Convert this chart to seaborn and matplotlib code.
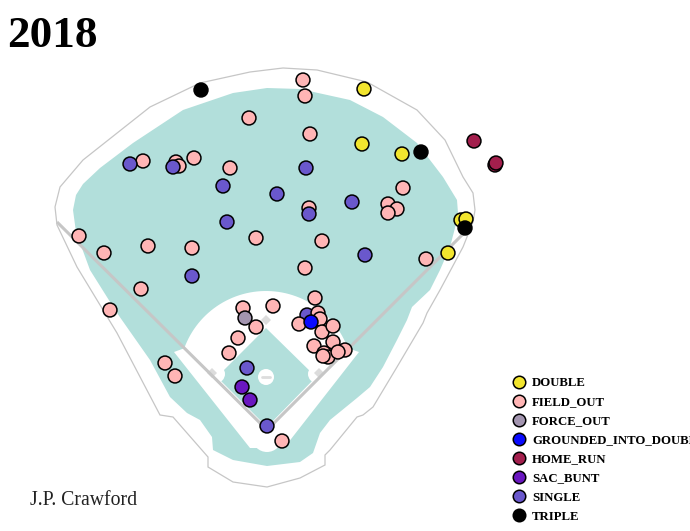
import matplotlib
matplotlib.use("Agg")
import matplotlib.pyplot as plt
import numpy as np
import pandas as pd
import seaborn as sns
from matplotlib.patches import Polygon, Circle

# Batted ball events (pixel positions on the field image)
event_order = ["DOUBLE", "FIELD_OUT", "FORCE_OUT", "GROUNDED_INTO_DOUBLE_PLAY",
               "HOME_RUN", "SAC_BUNT", "SINGLE", "TRIPLE"]
event_colors = ["#f2e52e", "#ffb5b5", "#a395b0", "#0a0aff",
                "#a31f4d", "#6a17c0", "#6a58cc", "#000000"]

hit_x = [307,
         303, 305, 249, 310, 143, 176, 179, 194, 230, 403, 309, 388, 397, 388,
         79, 104, 148, 192, 256, 322, 305, 426, 141, 110, 243, 273, 256, 238,
         229, 165, 175, 282, 315, 299, 318, 320, 322, 333, 314, 333, 324, 328,
         345, 338, 323,
         245,
         130, 173, 306, 223, 277, 352, 309, 227, 365, 192, 247, 267,
         242, 250,
         311,
         364, 362, 402, 461, 466, 448,
         201, 421, 465,
         474, 495, 496]
hit_y = [315,
         80, 96, 118, 134, 161, 162, 166, 158, 168, 188, 208, 204, 209, 213,
         236, 253, 246, 248, 238, 241, 268, 259, 289, 310, 308, 306, 327, 338,
         353, 363, 376, 441, 298, 324, 313, 319, 332, 326, 346, 342, 353, 357,
         350, 352, 356,
         318,
         164, 167, 168, 186, 194, 202, 214, 222, 255, 276, 368, 426,
         387, 400,
         322,
         89, 144, 154, 220, 219, 253,
         90, 152, 228,
         141, 165, 163]
hit_event = (["SINGLE"] + ["FIELD_OUT"] * 45 + ["FORCE_OUT"] + ["SINGLE"] * 12
             + ["SAC_BUNT"] * 2 + ["GROUNDED_INTO_DOUBLE_PLAY"]
             + ["DOUBLE"] * 6 + ["TRIPLE"] * 3 + ["HOME_RUN"] * 3)

df = pd.DataFrame({"x": hit_x, "y": hit_y, "event": hit_event})

sns.set_theme(style="white")
plt.rcParams["font.family"] = ["Liberation Serif", "DejaVu Serif"]

fig = plt.figure(figsize=(6.9, 5.31), dpi=100)
ax = fig.add_axes([0, 0, 1, 1])
ax.set_xlim(0, 690)
ax.set_ylim(531, 0)
ax.axis("off")

grass = "#b2dfdb"
line_gray = "#c6c6c6"

# outfield / foul territory grass
grass_pts = [(267, 88), (300, 89), (350, 100), (383, 117), (417, 143), (443, 177),
             (457, 200), (458, 213), (455, 228), (450, 247), (440, 270), (430, 290),
             (412, 307), (407, 320), (397, 340), (383, 367), (370, 387), (357, 398),
             (330, 420), (320, 433), (313, 453), (300, 462), (267, 466), (233, 460),
             (213, 450), (212, 437), (200, 420), (187, 413), (170, 397), (150, 360),
             (117, 313), (90, 270), (76, 232), (73, 210), (76, 195), (83, 184),
             (100, 168), (133, 143), (183, 110), (233, 93)]
ax.add_patch(Polygon(grass_pts, closed=True, facecolor=grass, edgecolor="none", zorder=1))

# outer wall line
wall_pts = [(283, 68), (317, 70), (367, 82), (417, 110), (445, 140), (463, 177),
            (473, 193), (475, 210), (473, 222), (463, 247), (440, 290), (427, 313),
            (423, 323), (397, 367), (373, 407), (363, 415), (357, 417), (330, 450),
            (325, 455), (325, 465), (300, 478), (267, 487), (233, 482), (208, 467),
            (208, 457), (173, 417), (160, 415), (117, 333), (77, 267), (57, 225),
            (55, 207), (60, 187), (83, 160), (150, 107), (200, 83), (250, 72)]
ax.add_patch(Polygon(wall_pts, closed=True, facecolor="none", edgecolor=line_gray,
                     linewidth=0.9, zorder=1))

# infield dirt
cx, cy, r = 266, 378, 87
t = np.radians(np.linspace(160, 20, 60))
arc = [(cx + r * np.cos(a), cy - r * np.sin(a)) for a in t]
dirt = [(174, 352)] + arc + [(359, 352), (284, 448), (250, 448)]
ax.add_patch(Polygon(dirt, closed=True, facecolor="white", edgecolor="none", zorder=2))
ax.add_patch(Circle((267, 437), 15, facecolor="white", edgecolor="none", zorder=2))

# infield grass
diamond = [(266, 328), (316, 377), (267, 427), (217, 377)]
ax.add_patch(Polygon(diamond, closed=True, facecolor=grass, edgecolor="none", zorder=3))
for bx in (216, 317):
    ax.add_patch(Circle((bx, 374), 9, facecolor="white", edgecolor="none", zorder=3))
ax.add_patch(Circle((266, 377), 8, facecolor="white", edgecolor="none", zorder=3))
ax.plot([262, 270], [377, 377], color="#dddddd", lw=2, zorder=4)

# bases
for bx, by in [(212, 373), (319, 373), (266, 320)]:
    ax.add_patch(Polygon([(bx, by - 5), (bx + 5, by), (bx, by + 5), (bx - 5, by)],
                         closed=True, facecolor="#dcdcdc", edgecolor="none", zorder=4))

# foul lines
ax.plot([57, 267, 467], [222, 430, 230], color=line_gray, lw=2.2, zorder=4,
        solid_capstyle="butt")

sns.scatterplot(data=df, x="x", y="y", hue="event", hue_order=event_order,
                palette=event_colors, s=100, edgecolor="black", linewidth=1.1,
                alpha=1, ax=ax, zorder=5, legend=True)
ax.set_xlim(0, 690)
ax.set_ylim(531, 0)

sns.move_legend(ax, loc="upper left", bbox_to_anchor=(506 / 690, 1 - 377 / 531),
                frameon=False, title=None, handletextpad=0.05, labelspacing=0.555,
                borderpad=0, borderaxespad=0, markerscale=0.9,
                prop={"family": "Liberation Serif", "weight": "bold", "size": 9.2})
for txt in ax.get_legend().get_texts():
    txt.set_color("black")

fig.text(7 / 690, 1 - 47 / 531, "2018", fontsize=32.5, fontweight="bold",
         family="Liberation Serif", va="baseline", ha="left", color="black")
fig.text(30 / 690, 1 - 505 / 531, "J.P. Crawford", fontsize=14.2,
         family="Liberation Serif", va="baseline", ha="left", color="#222222")

fig.savefig("out.png", dpi=100)
